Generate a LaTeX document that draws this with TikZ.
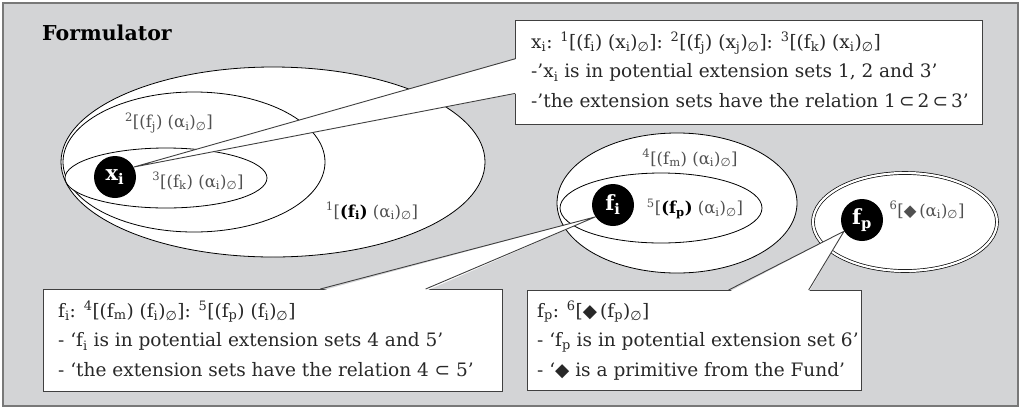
\documentclass[tikz,border=0pt]{standalone}
\usepackage{fontspec}
\setmainfont{DejaVu Serif}
\newfontfamily\symf{DejaVu Sans}
\usetikzlibrary{shapes.geometric,calc}
\definecolor{bgc}{RGB}{211,212,214}
\definecolor{framec}{RGB}{120,120,120}
\definecolor{txtc}{RGB}{40,40,40}
\definecolor{lblc}{RGB}{80,80,80}
\newcommand\Sb[1]{\textsubscript{#1}}
\newcommand\Sp[1]{\textsuperscript{#1}}
\newcommand\Em{\textsubscript{{\symf ∅}}}
\newcommand\Dia{{\symf ◆}}
\newcommand\Sub{{\symf ⊂}}
\pgfdeclarelayer{fg}
\pgfsetlayers{main,fg}
\begin{document}
\begin{tikzpicture}[x=1pt,y=-1pt,
  ell/.style={draw=black, line width=0.8pt, fill=white},
  dot/.style={circle, fill=black, inner sep=0pt, minimum size=42pt, text=white,
    font=\fontsize{21}{21}\selectfont\bfseries},
  callbox/.style={draw=black!75, line width=0.9pt, fill=white, inner sep=0pt, anchor=north west},
  boxtxt/.style={anchor=north west, align=left, inner sep=0pt, text=txtc,
    font=\fontsize{18.5}{29.5}\selectfont},
  lbl/.style={text=lblc, font=\fontsize{16.5}{16.5}\selectfont, inner sep=0pt},
  wedge/.style={draw=black!75, line width=0.9pt}]
\useasboundingbox (0,0) rectangle (1024,408);
\draw[draw=framec, line width=1.6pt, fill=bgc] (3,3) rectangle (1018,406);
\node[anchor=west, inner sep=0pt, font=\fontsize{20.5}{20.5}\selectfont\bfseries, text=black] (title) at (42,33) {Formulator};

% ellipses
\draw[ell] (273,162) ellipse [x radius=212, y radius=95];
\draw[ell] (194,162) ellipse [x radius=131, y radius=70];
\draw[ell] (166,178) ellipse [x radius=101, y radius=30];
\draw[ell] (677,203) ellipse [x radius=120, y radius=70];
\draw[ell] (661,208) ellipse [x radius=101, y radius=35];
\draw[line width=0.7pt, double=white, double distance=2.2pt, fill=white] (905,222) ellipse [x radius=92, y radius=49];

% labels in ellipses
\node[lbl] (l2) at (169,123) {\Sp{2}[(f\Sb{j}) (α\Sb{i})\Em]};
\node[lbl] (l3) at (198,181) {\Sp{3}[(f\Sb{k}) (α\Sb{i})\Em]};
\node[lbl] (l1) at (372,211) {\Sp{1}[{\color{black}\bfseries(f\Sb{i})} (α\Sb{i})\Em]};
\node[lbl] (l4) at (690,158) {\Sp{4}[(f\Sb{m}) (α\Sb{i})\Em]};
\node[lbl] (l5) at (695,209) {\Sp{5}[{\color{black}\bfseries(f\Sb{p})} (α\Sb{i})\Em]};
\node[lbl] (l6) at (927,210) {\Sp{6}[\Dia\,(α\Sb{i})\Em]};

% black dots (foreground layer)
\begin{pgfonlayer}{fg}
\node[dot] (xi) at (115,177) {x\Sb{i}};
\node[dot] (fi) at (613,205) {f\Sb{i}};
\node[dot] (fp) at (862,220) {f\Sb{p}};
\end{pgfonlayer}

% callout boxes
\node[callbox, minimum width=467pt, minimum height=104pt] (b1) at (515,20) {};
\node[callbox, minimum width=459pt, minimum height=102pt] (b2) at (43,289) {};
\node[callbox, minimum width=334pt, minimum height=100pt] (b3) at (527,290) {};

% wedges
\coordinate (w1a) at ($(b1.north west)!0.37!(b1.south west)$);
\coordinate (w1b) at ($(b1.north west)!0.70!(b1.south west)$);
\fill[white] (xi.28) -- ([xshift=2pt]w1a) -- ([xshift=2pt]w1b) -- cycle;
\draw[wedge] (w1a) -- (xi.28) -- (w1b);

\coordinate (w2a) at ($(b2.north west)!0.603!(b2.north east)$);
\coordinate (w2b) at ($(b2.north west)!0.832!(b2.north east)$);
\fill[white] (fi.214) -- ([yshift=-2pt]w2a) -- ([yshift=-2pt]w2b) -- cycle;
\draw[wedge] (w2a) -- (fi.214) -- (w2b);

\coordinate (w3a) at ($(b3.north west)!0.602!(b3.north east)$);
\coordinate (w3b) at ($(b3.north west)!0.841!(b3.north east)$);
\fill[white] (fp.212) -- ([yshift=-2pt]w3a) -- ([yshift=-2pt]w3b) -- cycle;
\draw[wedge] (w3a) -- (fp.212) -- (w3b);

% box texts
\node[boxtxt] (t1) at ($(b1.north west)+(16,12)$) {x\Sb{i}: \Sp{1}[(f\Sb{i}) (x\Sb{i})\Em]: \Sp{2}[(f\Sb{j}) (x\Sb{j})\Em]: \Sp{3}[(f\Sb{k}) (x\Sb{i})\Em]\\
-'x\Sb{i} is in potential extension sets 1, 2 and 3'\\
-'the extension sets have the relation 1\,\Sub\,2\,\Sub\,3'};
\node[boxtxt] (t2) at ($(b2.north west)+(15,12)$) {f\Sb{i}: \Sp{4}[(f\Sb{m}) (f\Sb{i})\Em]: \Sp{5}[(f\Sb{p}) (f\Sb{i})\Em]\\
- `f\Sb{i} is in potential extension sets 4 and 5'\\
- `the extension sets have the relation 4 \Sub{} 5'};
\node[boxtxt] (t3) at ($(b3.north west)+(10,11)$) {f\Sb{p}: \Sp{6}[\Dia\,(f\Sb{p})\Em]\\
- `f\Sb{p} is in potential extension set 6'\\
- `\Dia{} is a primitive from the Fund'};
\end{tikzpicture}
\end{document}
